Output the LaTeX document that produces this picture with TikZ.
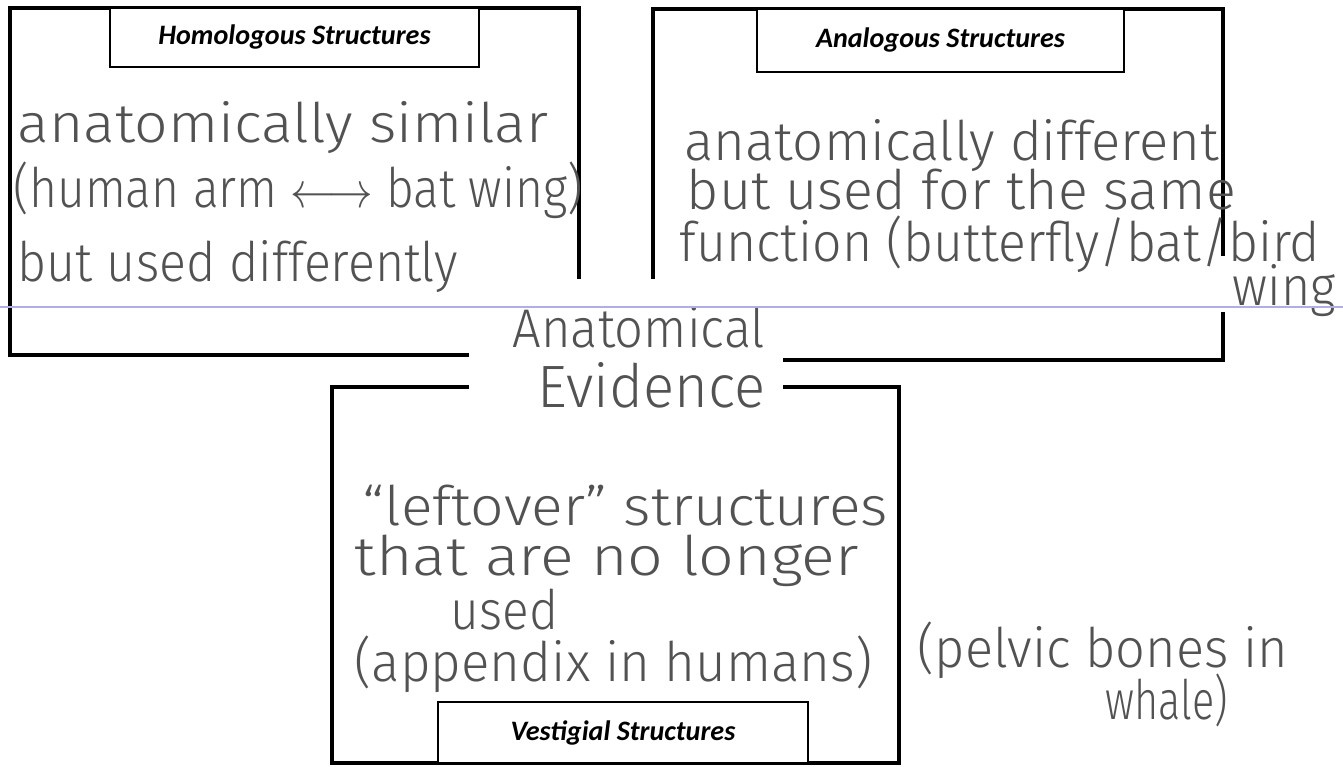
\documentclass[tikz,border=0pt]{standalone}
\usepackage{fontspec}
\setmainfont{Carlito}
\newfontfamily\handfont{Fira Sans Light}
\usepackage{xcolor}
\usetikzlibrary{positioning}
\definecolor{pencil}{gray}{0.32}
\definecolor{scanline}{RGB}{175,175,228}
\tikzstyle{frame} = [draw=black, line width=1.3pt, outer sep=0pt, inner sep=0pt]
\tikzstyle{title} = [draw=black, line width=0.7pt, fill=white, outer sep=0pt,
    inner sep=0pt, font=\fontsize{8}{10}\selectfont\bfseries\itshape]
\tikzstyle{hand} = [anchor=base west, inner sep=0pt, text=pencil,
    font=\fontsize{15.5}{18}\selectfont\handfont]
\tikzstyle{patch} = [fill=white, inner sep=0pt, outer sep=0pt]
% squeeze or stretch one handwritten line
\newcommand{\hw}[2]{\scalebox{#1}[1]{#2}}

\begin{document}
\begin{tikzpicture}[x=0.01cm, y=-0.01cm]
  \useasboundingbox (0,0) rectangle (1343,766);
  % Place frames
  \node [frame, minimum width=5.69cm, minimum height=3.47cm] (homol) at (294.5,181.5) {};
  \node [frame, minimum width=5.70cm, minimum height=3.51cm] (analog) at (938,184.5) {};
  \node [frame, minimum width=5.67cm, minimum height=3.76cm] (vestig) at (615.5,575) {};

  % Titles
  \node [title, anchor=north, minimum width=3.69cm, minimum height=0.59cm]
    (homoltitle) at (homol.north) {Homologous Structures};
  \node [title, anchor=north, minimum width=3.67cm, minimum height=0.63cm]
    (analogtitle) at ([xshift=0.025cm]analog.north) {Analogous Structures};
  \node [title, anchor=south, minimum width=3.70cm, minimum height=0.61cm]
    (vestigtitle) at ([xshift=0.075cm]vestig.south) {Vestigial Structures};

  % Paper patches over the lines
  \node [patch, minimum width=3.14cm, minimum height=1.36cm] (evidpatch) at (626,347) {};
  \node [patch, minimum width=0.2cm, minimum height=0.55cm] (wingpatch) at (1223,284) {};

  % Handwriting: homologous
  \node [hand] (homol1) at (17,142) {\hw{1.08}{anatomically similar}};
  \node [hand] (homol2) at (13,207) {\hw{0.88}{(human arm $\longleftrightarrow$ bat wing)}};
  \node [hand] (homol3) at (17,281) {\hw{0.92}{but used differently}};

  % Handwriting: analogous
  \node [hand] (analog1) at (684,160) {anatomically different};
  \node [hand] (analog2) at (686,209) {\hw{1.02}{but used for the same}};
  \node [hand] (analog3) at (679,261) {\hw{0.95}{function (butterfly/bat/bird}};
  \node [hand] (analog4) at (1232,305) {\hw{0.92}{wing}};

  % Centre
  \node [hand] (evid1) at (512,347) {\hw{0.93}{Anatomical}};
  \node [hand, font=\fontsize{17}{20}\selectfont\handfont] (evid2) at (537,407) {\hw{0.97}{Evidence}};

  % Handwriting: vestigial
  \node [hand] (vestig1) at (362,525) {\hw{1.08}{“leftover” structures}};
  \node [hand] (vestig2) at (354,575) {\hw{1.15}{that are no longer}};
  \node [hand] (vestig3) at (450,629) {\hw{0.91}{used}};
  \node [hand] (vestig4) at (354,681) {\hw{0.97}{(appendix in humans)}};
  \node [hand] (pelvic1) at (917,667) {\hw{0.96}{(pelvic bones in}};
  \node [hand] (pelvic2) at (1105,719) {\hw{0.76}{whale)}};

  % scanner line
  \draw [scanline, line width=0.4pt] (0,307) -- (1343,307);
\end{tikzpicture}
\end{document}
